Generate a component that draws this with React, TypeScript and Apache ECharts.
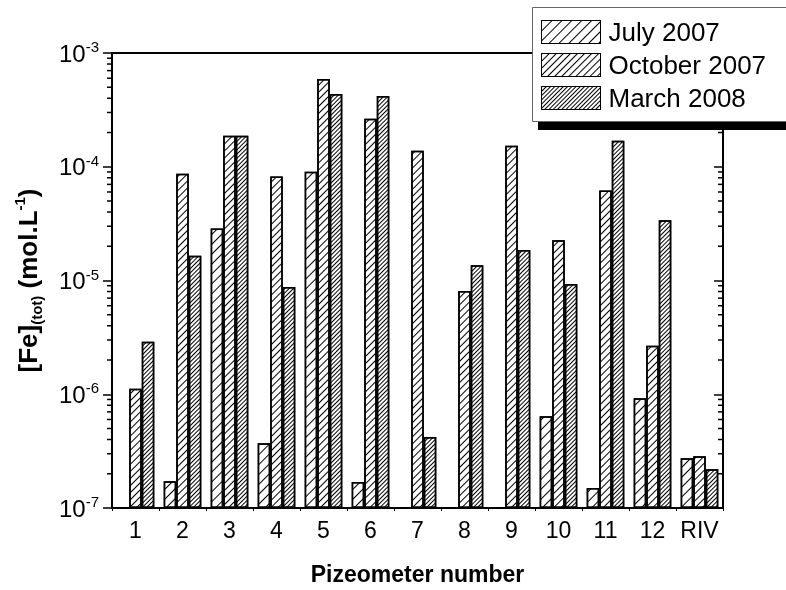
import React, { useEffect, useRef } from "react";
import * as echarts from "echarts";

const categories = ["1", "2", "3", "4", "5", "6", "7", "8", "9", "10", "11", "12", "RIV"];
const july = [null, 1.72e-7, 2.87e-5, 3.7e-7, 9.06e-5, 1.69e-7, null, null, null, 6.4e-7, 1.5e-7, 9.2e-7, 2.74e-7];
const october = [1.12e-6, 8.7e-5, 1.87e-4, 8.2e-5, 5.9e-4, 2.64e-4, 1.38e-4, 8.07e-6, 1.53e-4, 2.26e-5, 6.18e-5, 2.67e-6, 2.85e-7];
const march = [2.9e-6, 1.65e-5, 1.87e-4, 8.75e-6, 4.36e-4, 4.19e-4, 4.2e-7, 1.36e-5, 1.85e-5, 9.3e-6, 1.69e-4, 3.38e-5, 2.19e-7];
const seriesNames = ["July 2007", "October 2007", "March 2008"];
const axisMin = 1e-7;
const axisMax = 1e-3;
const decades = [1e-7, 1e-6, 1e-5, 1e-4];
const minorMultipliers = [2, 3, 4, 5, 6, 7, 8, 9];

// ECharts bars on a log axis grow from value 1, so the values are plotted in units of axisMin
// (the axis then starts at 1) and the labels are converted back to mol/L.
const UNIT = axisMin;

const FONT = "'Liberation Sans', Arial, sans-serif";

function hatch(gap: number) {
  return {
    symbol: "rect",
    symbolSize: 1,
    color: "#000",
    backgroundColor: "#fff",
    dashArrayX: [1, 0],
    dashArrayY: [1, gap],
    rotation: -Math.PI / 4,
  };
}

export default function App() {
  const ref = useRef<HTMLDivElement>(null);
  useEffect(() => {
    if (!ref.current) return;
    const chart = echarts.init(ref.current, null, { renderer: "svg" });
    const minorTicks: number[][] = [];
    decades.forEach((d) => minorMultipliers.forEach((m) => minorTicks.push([0, (d * m) / UNIT])));
    const barSeries = [july, october, march].map((arr, i) => ({
      name: seriesNames[i],
      type: "bar",
      data: arr.map((v) => (v == null ? "-" : v / UNIT)),
      barGap: "0%",
      barCategoryGap: "20%",
      itemStyle: {
        color: "#fff",
        borderColor: "#000",
        borderWidth: 1.5,
        decal: hatch([6, 4, 2][i]),
      },
      z: 2,
    }));
    const expLabel = (v: number) => Math.round(Math.log10(v * UNIT));
    chart.setOption({
      animation: false,
      textStyle: { fontFamily: FONT, color: "#000" },
      grid: { left: 112, right: 63, top: 53, bottom: 80, containLabel: false },
      legend: {
        data: seriesNames,
        orient: "vertical",
        left: 541,
        top: 19,
        itemGap: 7,
        itemWidth: 59,
        itemHeight: 23,
        padding: 0,
        icon: "rect",
        itemStyle: { borderColor: "#000", borderWidth: 1 },
        textStyle: { fontSize: 26, color: "#000", fontFamily: FONT, padding: [0, 0, 0, 3] },
        z: 30,
      },
      graphic: [
        { type: "rect", z: 20, shape: { x: 538, y: 14, width: 260, height: 116 }, style: { fill: "#000" } },
        { type: "rect", z: 21, shape: { x: 532.5, y: 7.5, width: 270, height: 114 }, style: { fill: "#fff", stroke: "#666", lineWidth: 1 } },
      ],
      xAxis: [
        {
          type: "category",
          data: categories,
          position: "bottom",
          boundaryGap: true,
          axisLine: { lineStyle: { color: "#000", width: 2 } },
          axisTick: { show: true, interval: 0, length: 3, lineStyle: { color: "#000", width: 1 } },
          axisLabel: { fontSize: 23, color: "#000", margin: 10, fontFamily: FONT, interval: 0 },
          name: "Pizeometer number",
          nameLocation: "middle",
          nameGap: 54,
          nameTextStyle: { fontSize: 23, fontWeight: "bold", color: "#000", fontFamily: FONT },
        },
        {
          type: "category",
          data: categories,
          position: "top",
          axisLine: { show: true, onZero: false, lineStyle: { color: "#000", width: 2 } },
          axisTick: { show: false },
          axisLabel: { show: false },
        },
      ],
      yAxis: [
        {
          type: "log",
          logBase: 10,
          min: axisMin / UNIT,
          max: axisMax / UNIT,
          position: "left",
          axisLine: { show: true, lineStyle: { color: "#000", width: 2 } },
          axisTick: { show: true, length: 9, lineStyle: { color: "#000", width: 1.5 } },
          splitLine: { show: false },
          axisLabel: {
            margin: 13,
            formatter: (v: number) => `{a|10}{b|${expLabel(v)}}`,
            rich: {
              a: { fontSize: 24, lineHeight: 28, fontFamily: FONT, color: "#000", verticalAlign: "middle" },
              b: { fontSize: 15, lineHeight: 15, fontFamily: FONT, color: "#000", verticalAlign: "top" },
            },
          },
          name: "{a|[Fe]}{s|(tot)}{a| (mol.L}{p|-1}{a|)}",
          nameLocation: "middle",
          nameRotate: 90,
          nameGap: 68,
          nameTextStyle: {
            rich: {
              a: { fontSize: 26, fontWeight: "bold", lineHeight: 32, fontFamily: FONT, color: "#000" },
              s: { fontSize: 15, fontWeight: "bold", lineHeight: 15, fontFamily: FONT, color: "#000", verticalAlign: "bottom" },
              p: { fontSize: 15, fontWeight: "bold", lineHeight: 15, fontFamily: FONT, color: "#000", verticalAlign: "top" },
            },
          },
        },
        {
          type: "log",
          logBase: 10,
          min: axisMin / UNIT,
          max: axisMax / UNIT,
          position: "right",
          axisLine: { show: true, lineStyle: { color: "#000", width: 2 } },
          axisTick: { show: true, inside: true, length: 9, lineStyle: { color: "#000", width: 1.5 } },
          axisLabel: { show: false },
          splitLine: { show: false },
        },
      ],
      series: [
        ...barSeries,
        {
          name: "minor",
          type: "custom",
          silent: true,
          z: 5,
          data: minorTicks,
          encode: { x: 0, y: 1 },
          renderItem: (params: any, api: any) => {
            const y = api.coord([0, api.value(1)])[1];
            const cs = params.coordSys;
            const st = { stroke: "#000", lineWidth: 1.5 };
            return {
              type: "group",
              children: [
                { type: "line", shape: { x1: cs.x - 5, y1: y, x2: cs.x, y2: y }, style: st },
                { type: "line", shape: { x1: cs.x + cs.width - 5, y1: y, x2: cs.x + cs.width, y2: y }, style: st },
              ],
            };
          },
        },
      ],
    });
    return () => chart.dispose();
  }, []);
  return <div ref={ref} style={{ position: "fixed", left: 0, top: 0, width: 786, height: 590 }} />;
}
